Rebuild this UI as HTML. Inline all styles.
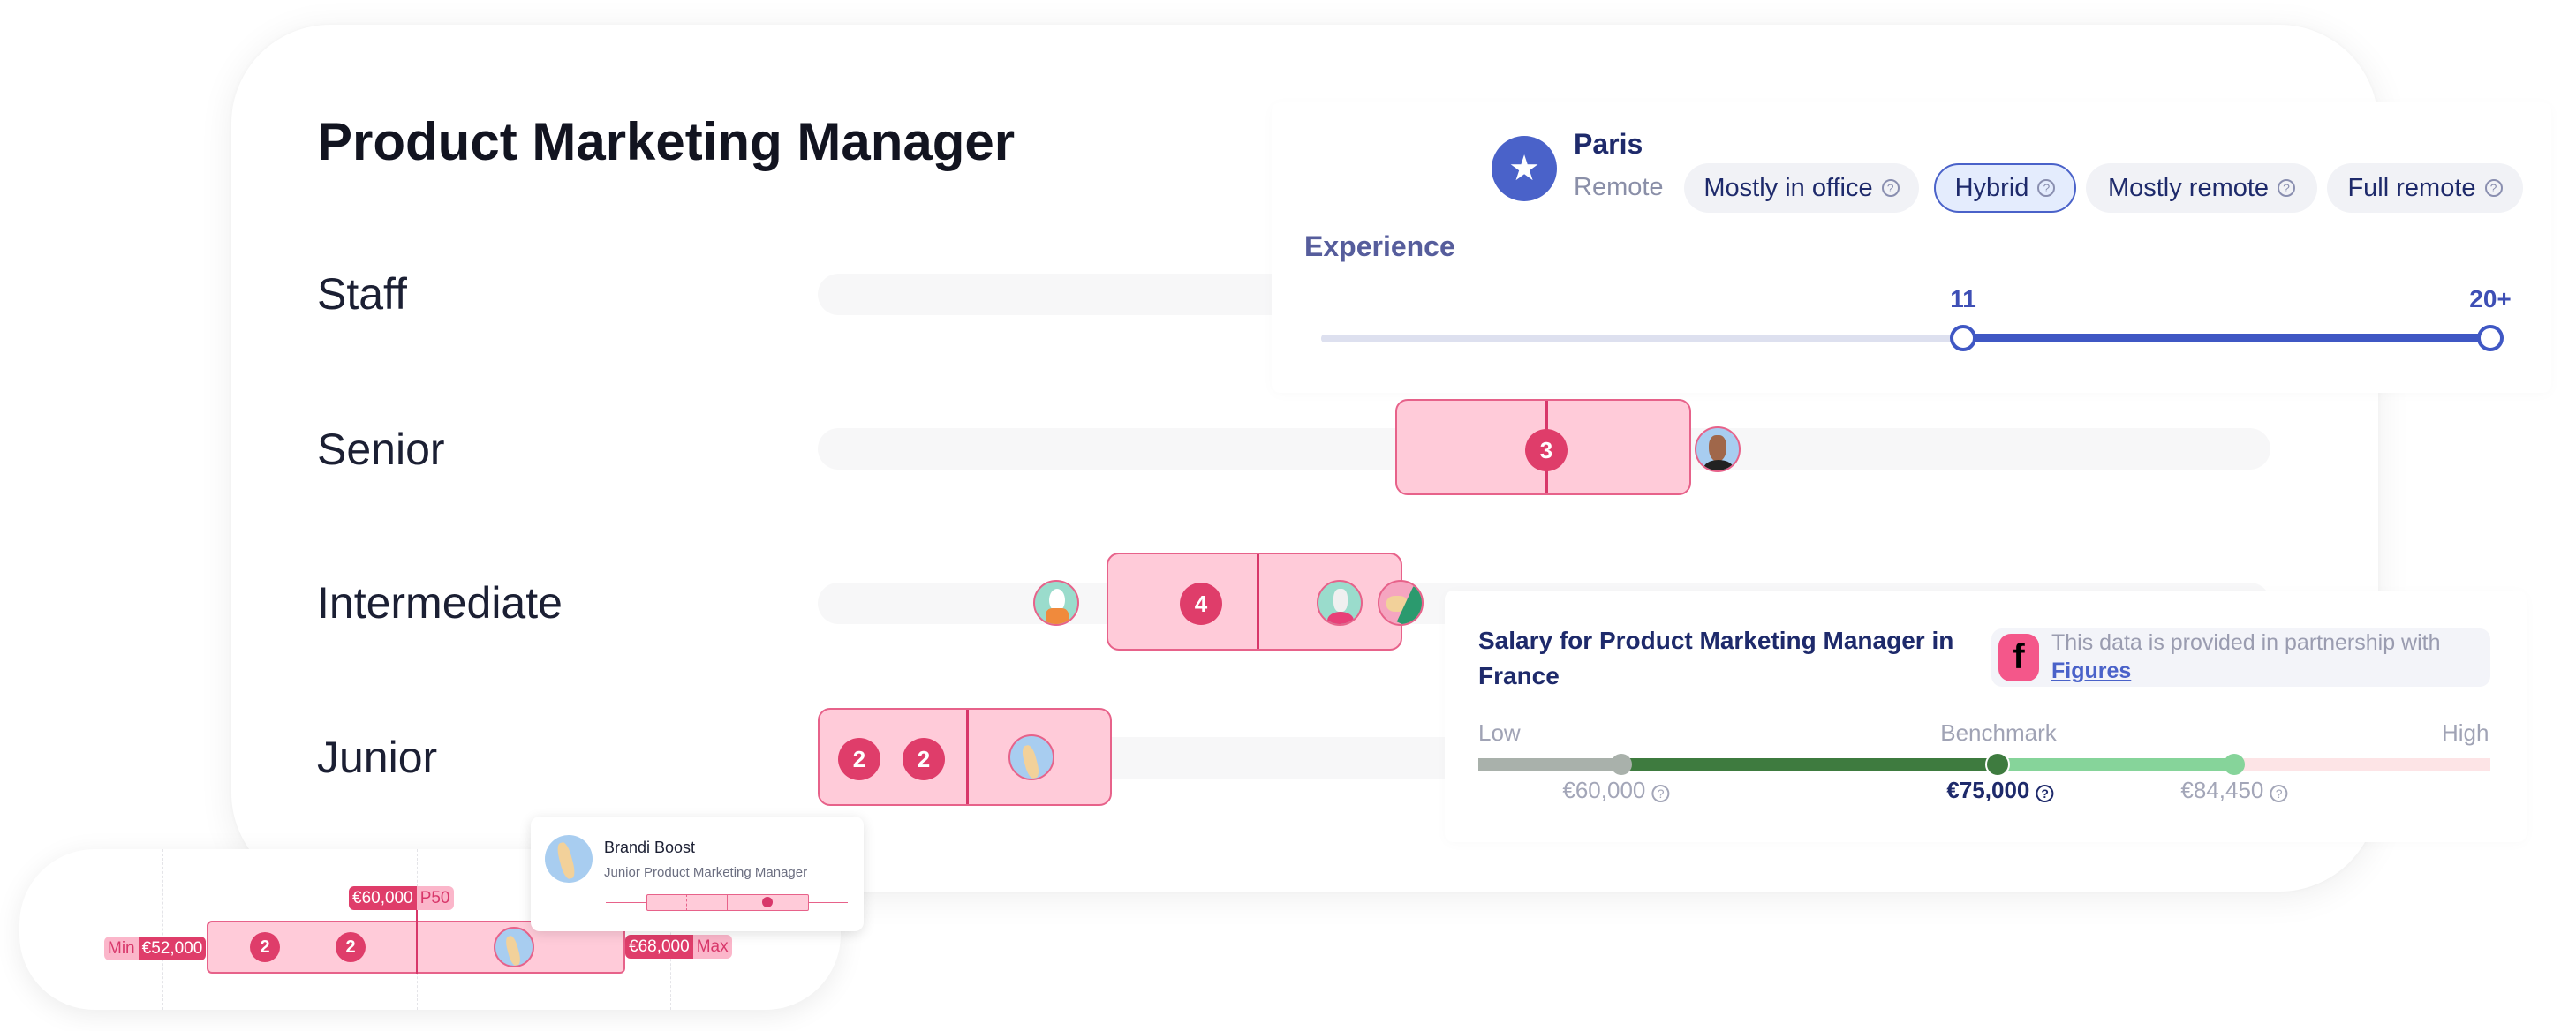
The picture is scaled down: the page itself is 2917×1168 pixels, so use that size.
<!DOCTYPE html>
<html><head><meta charset="utf-8"><style>
*{box-sizing:border-box;margin:0;padding:0}
body{width:2917px;height:1168px;background:#fff;position:relative;overflow:hidden;font-family:"Liberation Sans",sans-serif}
.a{position:absolute}
.card{position:absolute;background:#fff;box-shadow:0 6px 40px rgba(0,0,0,0.07),0 0 6px rgba(0,0,0,0.03)}
.lbl{position:absolute;left:359px;font-size:50px;color:#1b1f33;transform:translateY(-50%)}
.track{position:absolute;background:#f7f7f8;border-radius:24px}
.box{position:absolute;background:#ffcbd9;border:2px solid #e7628a;border-radius:14px}
.div{position:absolute;top:0;bottom:0;width:3px;background:#d8376a}
.badge{position:absolute;border-radius:50%;background:#df3d6a;color:#fff;font-weight:bold;display:flex;align-items:center;justify-content:center;transform:translate(-50%,-50%)}
.av{position:absolute;border-radius:50%;border:2px solid #e7628a;transform:translate(-50%,-50%);overflow:hidden}
.pill{position:absolute;top:185px;height:56px;border-radius:28px;background:#f1f2f6;color:#1e2a6b;font-size:29px;display:flex;align-items:center;justify-content:center;gap:10px}
.q{display:inline-block;width:20px;height:20px;border:2px solid #8a8fb0;border-radius:50%;font-size:14px;line-height:16px;text-align:center;color:#8a8fb0}
.tag{position:absolute;display:flex;font-size:19px;height:27px;border-radius:6px;overflow:hidden;line-height:27px}
.tag .d{background:#df3d6a;color:#fff;padding:0 4px}
.tag .l{background:#fbb6ca;color:#d8376a;padding:0 4px}
.sv{position:absolute;top:880px;font-size:26px;color:#a3a6b8;transform:translateX(-50%);white-space:nowrap}
.pn{position:absolute;background:#fff;box-shadow:0 2px 14px rgba(0,0,0,0.025)}
</style></head><body>

<div class="card" style="left:262px;top:28px;width:2431px;height:982px;border-radius:112px"></div>

<div class="a" style="left:359px;top:126px;font-size:60px;font-weight:bold;color:#121420">Product Marketing Manager</div>

<div class="lbl" style="top:333px">Staff</div>
<div class="lbl" style="top:509px">Senior</div>
<div class="lbl" style="top:683px">Intermediate</div>
<div class="lbl" style="top:858px">Junior</div>

<div class="track" style="left:926px;top:310px;width:1645px;height:47px"></div>
<div class="track" style="left:926px;top:485px;width:1645px;height:47px"></div>
<div class="track" style="left:926px;top:660px;width:1645px;height:47px"></div>
<div class="track" style="left:926px;top:835px;width:1645px;height:47px"></div>

<div class="box" style="left:1580px;top:452px;width:335px;height:109px"><div class="div" style="left:168px"></div></div>
<div class="badge" style="left:1751px;top:510px;width:48px;height:48px;font-size:26px">3</div>
<div class="av" style="left:1945px;top:509px;width:52px;height:52px;background:#a8cdf0"><div class="a" style="left:14px;top:8px;width:20px;height:30px;background:#a0674a;border-radius:40% 40% 50% 50%"></div><div class="a" style="left:8px;top:36px;width:34px;height:20px;background:#222;border-radius:50% 50% 0 0"></div></div>

<div class="av" style="left:1196px;top:683px;width:52px;height:52px;background:#9adccc"><div class="a" style="left:16px;top:8px;width:18px;height:26px;background:#fff;border-radius:50%"></div><div class="a" style="left:12px;top:30px;width:26px;height:24px;background:#f08a3c;border-radius:30% 30% 0 0"></div></div>
<div class="box" style="left:1253px;top:626px;width:335px;height:111px"><div class="div" style="left:168px"></div></div>
<div class="badge" style="left:1360px;top:684px;width:48px;height:48px;font-size:26px">4</div>
<div class="av" style="left:1517px;top:683px;width:52px;height:52px;background:#9adccc"><div class="a" style="left:17px;top:8px;width:16px;height:26px;background:#f0f0f0;border-radius:40%"></div><div class="a" style="left:10px;top:34px;width:30px;height:20px;background:#e83f78;border-radius:50% 50% 0 0"></div></div>
<div class="av" style="left:1586px;top:683px;width:52px;height:52px;background:#f5a5c0"><div class="a" style="left:8px;top:16px;width:24px;height:18px;background:#f2d19a;border-radius:40%"></div><div class="a" style="left:28px;top:8px;width:22px;height:44px;background:#2b9a6e;transform:rotate(25deg)"></div></div>

<div class="box" style="left:926px;top:802px;width:333px;height:111px"><div class="div" style="left:166px"></div></div>
<div class="badge" style="left:973px;top:860px;width:48px;height:48px;font-size:26px">2</div>
<div class="badge" style="left:1046px;top:860px;width:48px;height:48px;font-size:26px">2</div>
<div class="av" style="left:1168px;top:858px;width:52px;height:52px;background:#a8cdf0"><div class="a" style="left:16px;top:10px;width:14px;height:38px;background:#f2d19a;border-radius:40%;transform:rotate(-15deg)"></div></div>

<div class="pn" style="left:1440px;top:116px;width:1449px;height:329px;border-radius:10px"></div>
<div class="a" style="left:1689px;top:154px;width:74px;height:74px;border-radius:50%;background:#4a62c9;color:#fff;font-size:40px;display:flex;align-items:center;justify-content:center">★</div>
<div class="a" style="left:1782px;top:145px;font-size:32px;font-weight:bold;color:#1e2a6b">Paris</div>
<div class="a" style="left:1782px;top:196px;font-size:29px;color:#8a8fa8">Remote</div>
<div class="pill" style="left:1907px;width:266px">Mostly in office <span class="q">?</span></div>
<div class="pill" style="left:2190px;width:161px;background:#e4ecfd;border:2px solid #4a62c9">Hybrid <span class="q">?</span></div>
<div class="pill" style="left:2362px;width:262px">Mostly remote <span class="q">?</span></div>
<div class="pill" style="left:2635px;width:222px">Full remote <span class="q">?</span></div>
<div class="a" style="left:1477px;top:261px;font-size:32px;font-weight:bold;color:#565d9c">Experience</div>
<div class="a" style="left:1496px;top:379px;width:727px;height:9px;background:#dde0ef;border-radius:4px"></div>
<div class="a" style="left:2223px;top:378px;width:597px;height:10px;background:#3f57c4"></div>
<div class="a" style="left:2208px;top:368px;width:30px;height:30px;border-radius:50%;background:#fff;border:4px solid #3f57c4"></div>
<div class="a" style="left:2805px;top:368px;width:30px;height:30px;border-radius:50%;background:#fff;border:4px solid #3f57c4"></div>
<div class="a" style="left:2223px;top:323px;transform:translateX(-50%);font-size:28px;font-weight:bold;color:#3e4fb5">11</div>
<div class="a" style="left:2820px;top:323px;transform:translateX(-50%);font-size:28px;font-weight:bold;color:#3e4fb5">20+</div>

<div class="pn" style="left:1636px;top:669px;width:1225px;height:285px;border-radius:10px"></div>
<div class="a" style="left:1674px;top:706px;font-size:28px;font-weight:bold;color:#1e2a6b;line-height:40px">Salary for Product Marketing Manager in<br>France</div>
<div class="a" style="left:2255px;top:712px;width:565px;height:66px;background:#f3f4f9;border-radius:12px"></div>
<div class="a" style="left:2263px;top:718px;width:46px;height:54px;background:#f4578a;border-radius:14px;color:#000;font-weight:bold;font-size:40px;text-align:center;line-height:52px">f</div>
<div class="a" style="left:2323px;top:714px;font-size:25px;color:#9a9cb0">This data is provided in partnership with</div>
<div class="a" style="left:2323px;top:746px;font-size:25px;color:#4a62c9;text-decoration:underline;font-weight:bold">Figures</div>
<div class="a" style="left:1674px;top:815px;font-size:26px;color:#a0a3b5">Low</div>
<div class="a" style="left:2263px;top:815px;font-size:26px;color:#a0a3b5;transform:translateX(-50%)">Benchmark</div>
<div class="a" style="left:2765px;top:815px;font-size:26px;color:#a0a3b5">High</div>
<div class="a" style="left:1674px;top:859px;width:162px;height:14px;background:#a9b1ab"></div>
<div class="a" style="left:1836px;top:859px;width:425px;height:14px;background:#3e7b3f"></div>
<div class="a" style="left:2261px;top:859px;width:269px;height:14px;background:#86d49a"></div>
<div class="a" style="left:2530px;top:859px;width:290px;height:14px;background:#fde4e6"></div>
<div class="a" style="left:1824px;top:854px;width:24px;height:24px;border-radius:50%;background:#a9b1ab"></div>
<div class="a" style="left:2248px;top:852px;width:28px;height:28px;border-radius:50%;background:#3e7b3f;border:2px solid #fff"></div>
<div class="a" style="left:2518px;top:854px;width:24px;height:24px;border-radius:50%;background:#86d49a"></div>
<div class="sv" style="left:1830px">€60,000 <span class="q" style="border-color:#a3a6b8;color:#a3a6b8">?</span></div>
<div class="sv" style="left:2265px;color:#1e2a6b;font-weight:bold">€75,000 <span class="q" style="border-color:#1e2a6b;color:#1e2a6b">?</span></div>
<div class="sv" style="left:2530px">€84,450 <span class="q" style="border-color:#a3a6b8;color:#a3a6b8">?</span></div>

<div class="card" style="left:22px;top:962px;width:930px;height:182px;border-radius:85px;box-shadow:0 6px 30px rgba(0,0,0,0.08)"></div>
<div class="a" style="left:184px;top:962px;height:182px;border-left:1px dashed #e4e4e8"></div>
<div class="a" style="left:472px;top:962px;height:182px;border-left:1px dashed #e4e4e8"></div>
<div class="a" style="left:759px;top:962px;height:182px;border-left:1px dashed #e4e4e8"></div>
<div class="box" style="left:234px;top:1043px;width:474px;height:60px;border-radius:6px"></div>
<div class="a" style="left:471px;top:1028px;width:2px;height:75px;background:#d8376a"></div>
<div class="badge" style="left:300px;top:1073px;width:34px;height:34px;font-size:20px">2</div>
<div class="badge" style="left:397px;top:1073px;width:34px;height:34px;font-size:20px">2</div>
<div class="av" style="left:582px;top:1073px;width:46px;height:46px;background:#a8cdf0"><div class="a" style="left:14px;top:8px;width:12px;height:34px;background:#f2d19a;border-radius:40%;transform:rotate(-15deg)"></div></div>
<div class="tag" style="left:118px;top:1061px"><span class="l">Min</span><span class="d">€52,000</span></div>
<div class="tag" style="left:395px;top:1004px"><span class="d">€60,000</span><span class="l">P50</span></div>
<div class="tag" style="left:708px;top:1059px"><span class="d">€68,000</span><span class="l">Max</span></div>

<div class="card" style="left:601px;top:925px;width:377px;height:130px;border-radius:10px;box-shadow:0 3px 14px rgba(0,0,0,0.12)"></div>
<div class="a" style="left:617px;top:946px;width:54px;height:54px;border-radius:50%;background:#a8cdf0;overflow:hidden"><div class="a" style="left:17px;top:8px;width:14px;height:42px;background:#f2d19a;border-radius:40%;transform:rotate(-15deg)"></div></div>
<div class="a" style="left:684px;top:950px;font-size:18px;color:#1b1f33">Brandi Boost</div>
<div class="a" style="left:684px;top:980px;font-size:15px;color:#6b6e80">Junior Product Marketing Manager</div>
<div class="a" style="left:686px;top:1022px;width:274px;height:1px;background:#e7628a"></div>
<div class="a" style="left:732px;top:1013px;width:184px;height:19px;background:#ffcbd9;border:1px solid #e7628a;border-radius:2px"></div>
<div class="a" style="left:777px;top:1013px;height:19px;border-left:1px dashed #e7628a"></div>
<div class="a" style="left:823px;top:1013px;width:1px;height:19px;background:#e7628a"></div>
<div class="a" style="left:863px;top:1016px;width:12px;height:12px;border-radius:50%;background:#d8376a"></div>

</body></html>
